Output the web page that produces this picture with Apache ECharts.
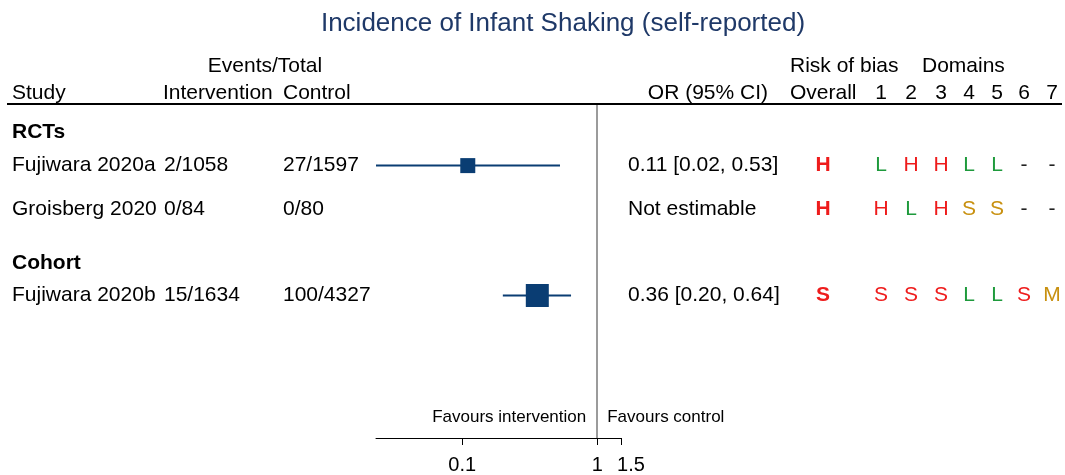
<!DOCTYPE html>
<html><head><meta charset="utf-8">
<script src="https://cdn.jsdelivr.net/npm/echarts@6/dist/echarts.min.js"></script>
<style>html,body{margin:0;padding:0;background:#fff}#c{width:1065px;height:475px}</style>
</head><body><div id="c"></div>
<script>
// ---- data ----
const groupNames = ['RCTs', 'Cohort'];
const studies = ['Fujiwara 2020a', 'Groisberg 2020', 'Fujiwara 2020b'];
const studyGroup = [0, 0, 1];
const intervention = ['2/1058', '0/84', '15/1634'];
const control = ['27/1597', '0/80', '100/4327'];
const orValue = [0.11, null, 0.36];
const ciLow = [0.02, null, 0.20];
const ciHigh = [0.53, null, 0.64];
const robOverall = ['H', 'H', 'S'];
const robDomains = [
  ['L', 'H', 'H', 'L', 'L', '-', '-'],
  ['H', 'L', 'H', 'S', 'S', '-', '-'],
  ['S', 'S', 'S', 'L', 'L', 'S', 'M']
];
const domainLabels = ['1', '2', '3', '4', '5', '6', '7'];
const tickValues = [0.1, 1, 1.5];

// ---- styles / layout ----
const markerSize = [15, 23, 23];
const robColors = [
  { H: '#ee1c1c', L: '#1e9a3c', S: '#c8900f', '-': '#222' },          // RoB 2
  { S: '#ee1c1c', L: '#1e9a3c', M: '#c8900f', H: '#ee1c1c', '-': '#222' } // ROBINS-I
];
const groupRowPos = [0.83, 4.76];
const studyRowPos = [1.82, 3.12, 5.72];
const navy = '#0a3d73';
const font = 'Liberation Sans, Arial, sans-serif';
const FS = 21;
const colX = { study: 12, interv: 164, control: 283, or: 628, overall: 823 };
const domainX = [881, 911, 941, 969, 997, 1024, 1052];

const chart = echarts.init(document.getElementById('c'));
const customData = [];
studies.forEach((s, i) => {
  if (orValue[i] != null) customData.push([orValue[i], ciLow[i], ciHigh[i], studyRowPos[i], markerSize[i]]);
});
const xMin = 0.023, xMax = 1.5;

chart.setOption({
  animation: false,
  title: {
    text: 'Incidence of Infant Shaking (self-reported)',
    left: 558, top: 6, textAlign: 'center',
    textStyle: { fontFamily: font, fontSize: 26, fontWeight: 'normal', color: '#1f3968' }
  },
  grid: { left: 376, right: 444, top: 105, bottom: 34 },
  xAxis: {
    type: 'log', min: xMin, max: xMax, position: 'bottom',
    splitLine: { show: false },
    axisLine: { onZero: false, lineStyle: { color: '#000', width: 1 } },
    axisTick: { customValues: tickValues, length: 7, inside: false, lineStyle: { color: '#000' } },
    axisLabel: { customValues: tickValues, fontFamily: font, fontSize: 20, color: '#000', margin: 17,
      formatter: v => {
        const s = String(Math.round(v * 100) / 100);
        return v === tickValues[tickValues.length - 1] ? '{e|' + s + '}' : s;
      },
      rich: { e: { fontFamily: font, fontSize: 20, color: '#000', padding: [0, 0, 0, 20] } }
    },
    minorTick: { show: false }
  },
  yAxis: { type: 'value', min: 0, max: 10, inverse: true, show: false },
  series: [{
    type: 'custom',
    data: customData,
    renderItem: function (params, api) {
      const lo = Math.max(api.value(1), xMin), hi = Math.min(api.value(2), xMax);
      const y = api.value(3), sz = api.value(4);
      const p0 = api.coord([lo, y]), p1 = api.coord([hi, y]), c = api.coord([api.value(0), y]);
      return { type: 'group', children: [
        { type: 'line', shape: { x1: p0[0], y1: p0[1], x2: p1[0], y2: p1[1] }, style: { stroke: navy, lineWidth: 2 } },
        { type: 'rect', shape: { x: c[0] - sz / 2, y: c[1] - sz / 2, width: sz, height: sz }, style: { fill: navy } }
      ]};
    },
    markLine: {
      silent: true, symbol: 'none', label: { show: false },
      lineStyle: { color: '#7a7a7a', width: 1.5, type: 'solid' },
      data: [{ xAxis: 1 }]
    }
  }]
});

// ---- table text ----
const g = [];
function txt(x, y, s, opt) {
  opt = opt || {};
  g.push({ type: 'text', x: x, y: y, silent: true, style: {
    text: s, fontFamily: font, fontSize: opt.size || FS, fontWeight: opt.bold ? 'bold' : 'normal',
    fill: opt.color || '#000', textAlign: opt.align || 'left', textVerticalAlign: 'middle' } });
}
const rowY = v => chart.convertToPixel({ yAxisIndex: 0 }, v);
// headers
txt(265, 66, 'Events/Total', { align: 'center' });
txt(colX.study, 93, 'Study');
txt(colX.interv - 1, 93, 'Intervention');
txt(colX.control, 93, 'Control');
txt(768, 93, 'OR (95% CI)', { align: 'right' });
txt(790, 66, 'Risk of bias');
txt(922, 66, 'Domains');
txt(790, 93, 'Overall');
domainLabels.forEach((d, k) => txt(domainX[k], 93, d, { align: 'center' }));
g.push({ type: 'line', silent: true, shape: { x1: 7, y1: 104, x2: 1062, y2: 104 }, style: { stroke: '#000', lineWidth: 2 } });
// groups
groupNames.forEach((n, k) => txt(colX.study, rowY(groupRowPos[k]), n, { bold: true }));
// studies
studies.forEach((s, i) => {
  const y = rowY(studyRowPos[i]);
  const pal = robColors[studyGroup[i]];
  txt(colX.study, y, s);
  txt(colX.interv, y, intervention[i]);
  txt(colX.control, y, control[i]);
  const orTxt = orValue[i] == null ? 'Not estimable'
    : orValue[i].toFixed(2) + ' [' + ciLow[i].toFixed(2) + ', ' + ciHigh[i].toFixed(2) + ']';
  txt(colX.or, y, orTxt);
  txt(colX.overall, y, robOverall[i], { bold: true, align: 'center', color: pal[robOverall[i]] });
  robDomains[i].forEach((r, k) => txt(domainX[k], y, r, { align: 'center', color: pal[r] }));
});
// favours labels
const x1 = chart.convertToPixel({ xAxisIndex: 0 }, 1);
txt(x1 - 11, 417, 'Favours intervention', { size: 17, align: 'right' });
txt(x1 + 10, 417, 'Favours control', { size: 17 });
chart.setOption({ graphic: g });
</script></body></html>
